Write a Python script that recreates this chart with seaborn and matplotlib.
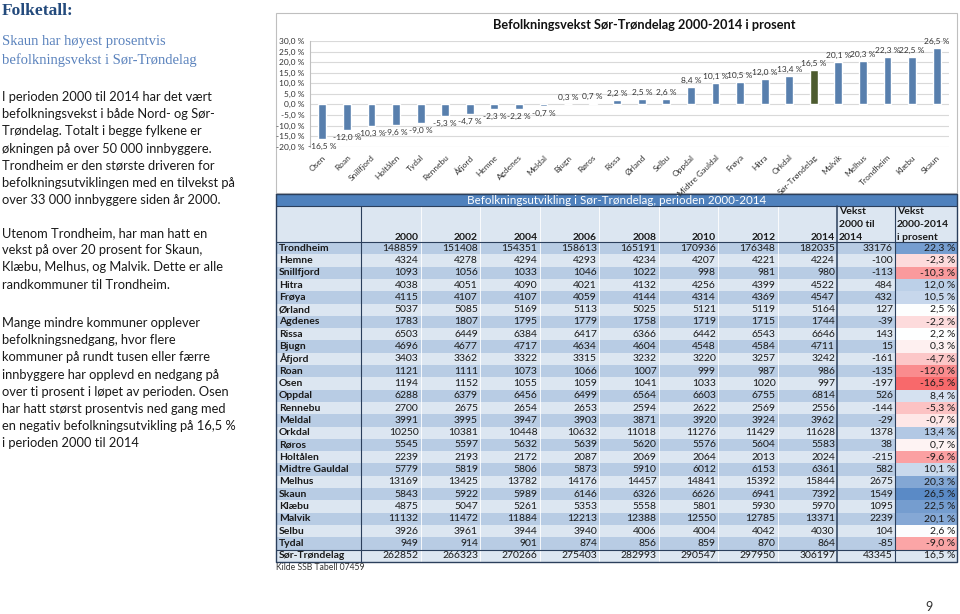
import numpy as np
import pandas as pd
import matplotlib
matplotlib.use("Agg")
import matplotlib.pyplot as plt
import seaborn as sns
from matplotlib.patches import Rectangle
from matplotlib.colors import LinearSegmentedColormap, TwoSlopeNorm

# --- data (SSB tabell 07459) ---
kommuner = ["Trondheim", "Hemne", "Snillfjord", "Hitra", "Frøya", "Ørland", "Agdenes",
            "Rissa", "Bjugn", "Åfjord", "Roan", "Osen", "Oppdal", "Rennebu", "Meldal",
            "Orkdal", "Røros", "Holtålen", "Midtre Gauldal", "Melhus", "Skaun", "Klæbu",
            "Malvik", "Selbu", "Tydal"]
aar = [2000, 2002, 2004, 2006, 2008, 2010, 2012, 2014]
folk_2000 = [148859, 4324, 1093, 4038, 4115, 5037, 1783, 6503, 4696, 3403, 1121, 1194, 6288,
             2700, 3991, 10250, 5545, 2239, 5779, 13169, 5843, 4875, 11132, 3926, 949]
folk_2002 = [151408, 4278, 1056, 4051, 4107, 5085, 1807, 6449, 4677, 3362, 1111, 1152, 6379,
             2675, 3995, 10381, 5597, 2193, 5819, 13425, 5922, 5047, 11472, 3961, 914]
folk_2004 = [154351, 4294, 1033, 4090, 4107, 5169, 1795, 6384, 4717, 3322, 1073, 1055, 6456,
             2654, 3947, 10448, 5632, 2172, 5806, 13782, 5989, 5261, 11884, 3944, 901]
folk_2006 = [158613, 4293, 1046, 4021, 4059, 5113, 1779, 6417, 4634, 3315, 1066, 1059, 6499,
             2653, 3903, 10632, 5639, 2087, 5873, 14176, 6146, 5353, 12213, 3940, 874]
folk_2008 = [165191, 4234, 1022, 4132, 4144, 5025, 1758, 6366, 4604, 3232, 1007, 1041, 6564,
             2594, 3871, 11018, 5620, 2069, 5910, 14457, 6326, 5558, 12388, 4006, 856]
folk_2010 = [170936, 4207, 998, 4256, 4314, 5121, 1719, 6442, 4548, 3220, 999, 1033, 6603,
             2622, 3920, 11276, 5576, 2064, 6012, 14841, 6626, 5801, 12550, 4004, 859]
folk_2012 = [176348, 4221, 981, 4399, 4369, 5119, 1715, 6543, 4584, 3257, 987, 1020, 6755,
             2569, 3924, 11429, 5604, 2013, 6153, 15392, 6941, 5930, 12785, 4042, 870]
folk_2014 = [182035, 4224, 980, 4522, 4547, 5164, 1744, 6646, 4711, 3242, 986, 997, 6814,
             2556, 3962, 11628, 5583, 2024, 6361, 15844, 7392, 5970, 13371, 4030, 864]
fylke = "Sør-Trøndelag"
fylke_folk = [262852, 266323, 270266, 275403, 282993, 290547, 297950, 306197]

df = pd.DataFrame({a: col for a, col in zip(aar, [folk_2000, folk_2002, folk_2004, folk_2006,
                                                 folk_2008, folk_2010, folk_2012, folk_2014])},
                  index=kommuner)
df.loc[fylke] = fylke_folk
df["vekst"] = df[2014] - df[2000]
df["prosent"] = df["vekst"] / df[2000] * 100

chart = df["prosent"].sort_values().reset_index()
chart.columns = ["kommune", "prosent"]

def pst(v):
    return f"{v:.1f} %".replace(".", ",")

# --- figure ---
sns.set_style("white")
plt.rcParams["font.family"] = ["Lato", "DejaVu Sans"]
W, H = 960, 614
fig = plt.figure(figsize=(W / 100, H / 100), dpi=100)

# overlay axes in pixel coordinates for text and table
bg = fig.add_axes([0, 0, 1, 1])
bg.set_xlim(0, W)
bg.set_ylim(H, 0)
bg.axis("off")

# left text panel
bg.text(2, 11, "Folketall:", fontsize=12.5, fontweight="bold", color="#234A7C",
        family="Liberation Serif", va="center")
bg.text(2, 42, "Skaun har høyest prosentvis", fontsize=10.5, color="#5B83BD",
        family="Liberation Serif", va="center")
bg.text(2, 60, "befolkningsvekst i Sør-Trøndelag", fontsize=10.5, color="#5B83BD",
        family="Liberation Serif", va="center")
avsnitt = [
    (97, ["I perioden 2000 til 2014 har det vært",
          "befolkningsvekst i både Nord- og Sør-",
          "Trøndelag. Totalt i begge fylkene er",
          "økningen på over 50 000 innbyggere.",
          "Trondheim er den største driveren for",
          "befolkningsutviklingen med en tilvekst på",
          "over 33 000 innbyggere siden år 2000."]),
    (233, ["Utenom Trondheim, har man hatt en",
           "vekst på over 20 prosent for Skaun,",
           "Klæbu, Melhus, og Malvik. Dette er alle",
           "randkommuner til Trondheim."]),
    (323, ["Mange mindre kommuner opplever",
           "befolkningsnedgang, hvor flere",
           "kommuner på rundt tusen eller færre",
           "innbyggere har opplevd en nedgang på",
           "over ti prosent i løpet av perioden. Osen",
           "har hatt størst prosentvis ned gang med",
           "en negativ befolkningsutvikling på 16,5 %",
           "i perioden 2000 til 2014"]),
]
for y0, linjer in avsnitt:
    for k, linje in enumerate(linjer):
        bg.text(2, y0 + k * 17.2, linje, fontsize=9.3, color="#1a1a1a", va="center")

# chart frame
bg.add_patch(Rectangle((276, 13), 681, 180, fill=False, ec="#BFBFBF", lw=0.8))
bg.text(644, 25, "Befolkningsvekst Sør-Trøndelag 2000-2014 i prosent", fontsize=9.2,
        fontweight="bold", ha="center", va="center", color="#111111")

# --- bar chart ---
ax = fig.add_axes([310 / W, 1 - 146.7 / H, 639 / W, 105.7 / H])
ax.set_facecolor("none")
farger = {k: ("#4F6228" if k == fylke else "#4A7EBB") for k in chart["kommune"]}
sns.barplot(data=chart, x="kommune", y="prosent", hue="kommune", palette=farger,
            legend=False, width=0.32, ax=ax, zorder=3)
ax.set_ylim(-20, 30)
ax.set_xlim(-0.5, len(chart) - 0.5)
ax.set_yticks(np.arange(-20, 31, 5))
ax.set_yticklabels([pst(v) for v in np.arange(-20, 31, 5)], fontsize=6, color="#333333")
ax.set_xticks(range(len(chart)))
ax.set_xticklabels(chart["kommune"], rotation=45, ha="right", rotation_mode="anchor",
                   fontsize=6, color="#333333")
ax.tick_params(axis="both", length=0)
ax.tick_params(axis="x", pad=5)
ax.tick_params(axis="y", pad=4)
ax.grid(axis="y", color="#D9D9D9", lw=0.8, zorder=0)
for s in ["top", "right", "bottom"]:
    ax.spines[s].set_visible(False)
ax.spines["left"].set_color("#BFBFBF")
ax.spines["left"].set_linewidth(0.8)
ax.set_xlabel("")
ax.set_ylabel("")
for i, v in enumerate(chart["prosent"]):
    if v >= 0:
        ax.annotate(pst(v), (i, v), xytext=(0, 3), textcoords="offset pixels",
                    ha="center", va="bottom", fontsize=6, color="#333333")
    else:
        ax.annotate(pst(v), (i, v), xytext=(0, -4), textcoords="offset pixels",
                    ha="center", va="top", fontsize=6, color="#333333")

# --- table ---
kant = "#2B3F5C"
fs = 7.5
x0, x_navn, x_aar, x_vekst, x_pst, x1 = 276, 361, 361, 837, 895, 957
kol_b = (x_vekst - x_aar) / len(aar)
y_topp, y_hode, y_data, rad_h = 194, 206, 242, 12.3
rader = list(df.index)
y_bunn = y_data + rad_h * len(rader)

bg.add_patch(Rectangle((x0, y_topp), x1 - x0, y_hode - y_topp, color="#4F81BD", lw=0))
bg.text((x0 + x1) / 2, (y_topp + y_hode) / 2,
        "Befolkningsutvikling i Sør-Trøndelag, perioden 2000-2014", fontsize=8.4,
        color="white", ha="center", va="center")
bg.add_patch(Rectangle((x0, y_hode), x1 - x0, y_data - y_hode, color="#DCE6F1", lw=0))
for j, a in enumerate(aar):
    bg.text(x_aar + (j + 1) * kol_b - 2, 237, str(a), fontsize=fs, fontweight="bold",
            ha="right", va="center", color="#1a1a1a")
for k, t in enumerate(["Vekst", "2000 til", "2014"]):
    bg.text(x_vekst + 2, 212 + k * 12.5, t, fontsize=fs, fontweight="bold",
            ha="left", va="center", color="#1a1a1a")
for k, t in enumerate(["Vekst", "2000-2014", "i prosent"]):
    bg.text(x_pst + 2, 212 + k * 12.5, t, fontsize=fs, fontweight="bold",
            ha="left", va="center", color="#1a1a1a")

cmap = LinearSegmentedColormap.from_list("excel", ["#F8696B", "#FFFFFF", "#5A8AC6"])
kun_kommuner = df.loc[kommuner, "prosent"]
norm = TwoSlopeNorm(vmin=kun_kommuner.min(), vcenter=kun_kommuner.median(),
                    vmax=kun_kommuner.max())

for r, navn in enumerate(rader):
    y = y_data + r * rad_h
    yc = y + rad_h / 2
    fill = "#B8CCE4" if r % 2 == 0 else "#DCE6F1"
    if navn == fylke:
        fill = "#DCE6F1"
    bg.add_patch(Rectangle((x0, y), x1 - x0, rad_h, color=fill, lw=0))
    if navn != fylke:
        bg.add_patch(Rectangle((x_pst, y), x1 - x_pst, rad_h,
                               color=cmap(norm(df.loc[navn, "prosent"])), lw=0))
    bg.text(x0 + 3, yc, navn, fontsize=fs, fontweight="bold", ha="left", va="center",
            color="#1a1a1a")
    for j, a in enumerate(aar):
        bg.text(x_aar + (j + 1) * kol_b - 2, yc, str(df.loc[navn, a]), fontsize=fs,
                ha="right", va="center", color="#1a1a1a")
    bg.text(x_pst - 2, yc, str(df.loc[navn, "vekst"]), fontsize=fs, ha="right",
            va="center", color="#1a1a1a")
    bg.text(x1 - 2, yc, pst(df.loc[navn, "prosent"]), fontsize=fs, ha="right",
            va="center", color="#1a1a1a")

# light column separators
for j in range(1, len(aar)):
    xs = x_aar + j * kol_b
    bg.plot([xs, xs], [y_hode, y_bunn], color="white", lw=0.6)
# dark borders
y_sum = y_bunn - rad_h
bg.plot([x0, x1, x1, x0, x0], [y_topp, y_topp, y_bunn, y_bunn, y_topp], color=kant, lw=1)
for xs in [x_navn, x_vekst, x_pst]:
    bg.plot([xs, xs], [y_hode, y_bunn], color=kant, lw=1.1 if xs == x_vekst else 0.8)
for ys in [y_hode, y_data, y_sum]:
    bg.plot([x0, x1], [ys, ys], color=kant, lw=0.8)

bg.text(x0, 568, "Kilde SSB Tabell 07459", fontsize=6.2, color="#333333", va="center")
bg.text(929, 607, "9", fontsize=9, color="#333333", ha="center", va="center")

fig.savefig("out.png", dpi=100)
